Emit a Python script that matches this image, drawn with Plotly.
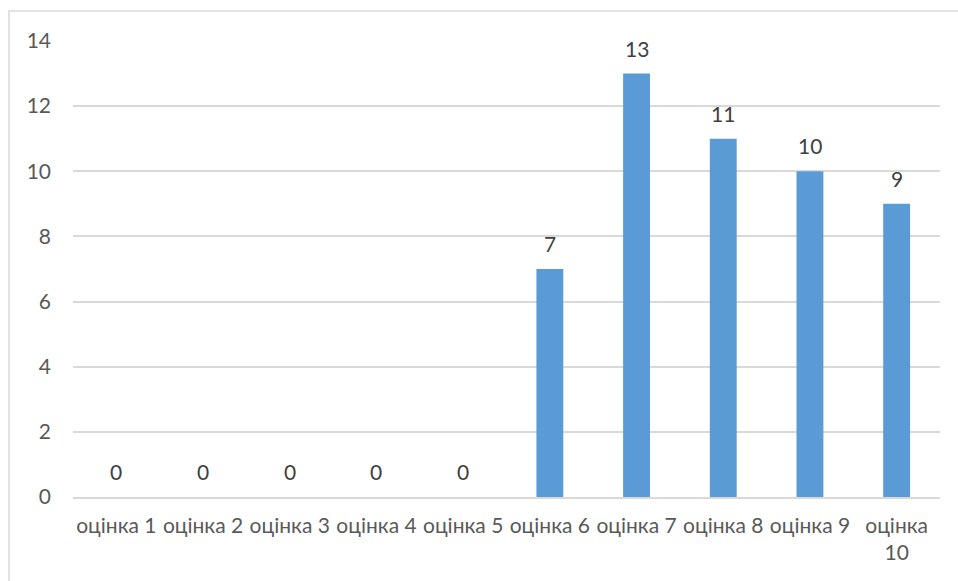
import plotly.graph_objects as go

# Score distribution: number of responses per grade
categories = ["оцінка 1", "оцінка 2", "оцінка 3", "оцінка 4", "оцінка 5",
              "оцінка 6", "оцінка 7", "оцінка 8", "оцінка 9", "оцінка 10"]
counts = [0, 0, 0, 0, 0, 7, 13, 11, 10, 9]
y_ticks = [0, 2, 4, 6, 8, 10, 12, 14]

FONT = "Lato, 'Noto Sans', sans-serif"
TEXT_COLOR = "#595959"
BAR_COLOR = "#5B9BD5"
GRID_COLOR = "#D9D9D9"
SIZE = 21

# long labels wrap onto a second line
tick_text = [c.replace(" ", "<br>") if len(c) > 8 else c for c in categories]

fig = go.Figure()
fig.add_trace(go.Bar(
    x=categories,
    y=counts,
    marker=dict(color=BAR_COLOR, line=dict(width=0)),
    hoverinfo="x+y",
))

# value labels above each bar
for cat, val in zip(categories, counts):
    fig.add_annotation(
        x=cat, y=val, text=str(val), showarrow=False,
        yanchor="bottom", yshift=11,
        font=dict(family=FONT, size=SIZE, color="#404040"),
    )

# outer chart frame
fig.add_shape(
    type="rect", xref="paper", yref="paper",
    x0=-0.0738, x1=1.1, y0=-0.3, y1=1.0658,
    line=dict(color="#D9D9D9", width=1.5), fillcolor="rgba(0,0,0,0)",
    layer="below",
)

fig.update_layout(
    width=958, height=581,
    margin=dict(l=73, r=18, t=41, b=84),
    paper_bgcolor="white", plot_bgcolor="white",
    showlegend=False,
    bargap=0.69,
    font=dict(family=FONT, size=SIZE, color=TEXT_COLOR),
    xaxis=dict(
        type="category",
        tickmode="array", tickvals=categories, ticktext=tick_text,
        showgrid=False, showline=True, linecolor=GRID_COLOR, linewidth=1.5,
        ticks="", ticklabelstandoff=9,
        tickfont=dict(family=FONT, size=SIZE, color=TEXT_COLOR),
        tickangle=0,
    ),
    yaxis=dict(
        range=[0, 14], tickvals=y_ticks,
        showgrid=True, gridcolor=GRID_COLOR, gridwidth=1.5,
        zeroline=False, showline=False,
        ticks="", ticklabelstandoff=21,
        tickfont=dict(family=FONT, size=SIZE, color=TEXT_COLOR),
    ),
)

fig.write_html("out.html")
